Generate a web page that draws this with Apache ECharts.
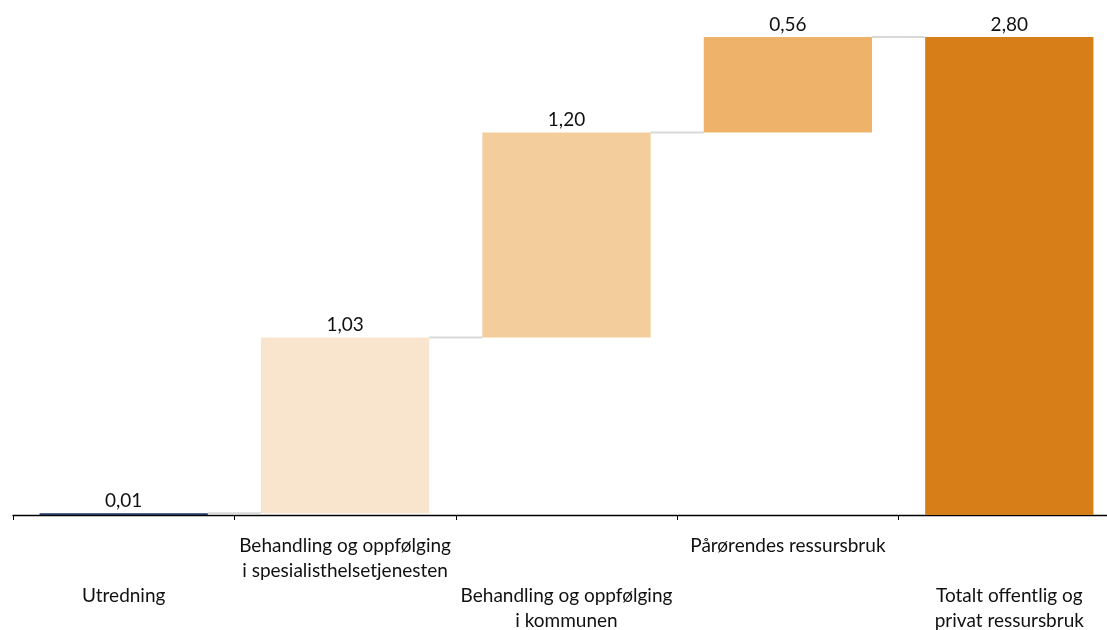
<!DOCTYPE html>
<html>
<head>
<meta charset="utf-8">
<script src="https://cdn.jsdelivr.net/npm/echarts@6/dist/echarts.min.js"></script>
<style>
  html, body { margin: 0; padding: 0; background: #fff; }
  #chart { width: 1107px; height: 630px; }
</style>
</head>
<body>
<div id="chart"></div>
<script>
// Waterfall of resource use (cost components adding up to the total)
const categories = [
  'Utredning',
  'Behandling og oppfølging\ni spesialisthelsetjenesten',
  'Behandling og oppfølging\ni kommunen',
  'Pårørendes ressursbruk',
  'Totalt offentlig og\nprivat ressursbruk'
];
const values = [0.01, 1.03, 1.20, 0.56, 2.80];
const isTotal = [false, false, false, false, true];
const barColors = ['#1f3864', '#f9e5cd', '#f4cd9c', '#efb26a', '#d77e18'];

// Invisible offsets for floating bars and running totals for connectors
const bases = [];
const levels = [];
let running = 0;
values.forEach((v, i) => {
  if (isTotal[i]) {
    bases.push(0);
    levels.push(v);
  } else {
    bases.push(running);
    running += v;
    levels.push(running);
  }
});

const fmt = v => v.toFixed(2).replace('.', ',');
const font = 'Lato, "Open Sans", sans-serif';

const chart = echarts.init(document.getElementById('chart'));
chart.setOption({
  animation: false,
  grid: { left: 13, top: 37, width: 1107, height: 478, outerBoundsMode: 'none', containLabel: false },
  xAxis: {
    type: 'category',
    data: categories,
    axisLine: { lineStyle: { color: '#000', width: 1.3 } },
    axisTick: { show: true, length: 5, lineStyle: { color: '#000' } },
    axisLabel: {
      interval: 0,
      margin: 18,
      color: '#111',
      fontSize: 19,
      fontFamily: font,
      lineHeight: 25,
      verticalAlign: 'top',
      hideOverlap: false,
      formatter: (val, idx) => (idx % 2 === 0 ? '\n\n' + val : val)
    }
  },
  yAxis: {
    type: 'value',
    min: 0,
    max: 2.8,
    show: false
  },
  series: [
    {
      type: 'bar',
      stack: 'wf',
      barWidth: '76%',
      itemStyle: { color: 'transparent' },
      data: bases,
      silent: true
    },
    {
      type: 'bar',
      stack: 'wf',
      barWidth: '76%',
      data: values.map((v, i) => ({ value: v, itemStyle: { color: barColors[i] } })),
      label: {
        show: true,
        position: 'top',
        distance: 3,
        color: '#111',
        fontSize: 19,
        fontFamily: font,
        formatter: p => fmt(p.value)
      }
    },
    {
      // connector lines between neighbouring bars at the running level
      type: 'custom',
      data: levels.map((l, i) => [i, l]),
      z: 1,
      renderItem: (params, api) => {
        const i = api.value(0);
        if (i >= categories.length - 1) return null;
        const lvl = api.value(1);
        const band = api.size([1, 0])[0];
        const half = band * 0.76 / 2;
        const p0 = api.coord([i, lvl]);
        const p1 = api.coord([i + 1, lvl]);
        return {
          type: 'line',
          shape: { x1: p0[0] + half, y1: p0[1], x2: p1[0] - half, y2: p1[1] },
          style: { stroke: '#d9d9d9', lineWidth: 2 }
        };
      }
    }
  ]
});
</script>
</body>
</html>
